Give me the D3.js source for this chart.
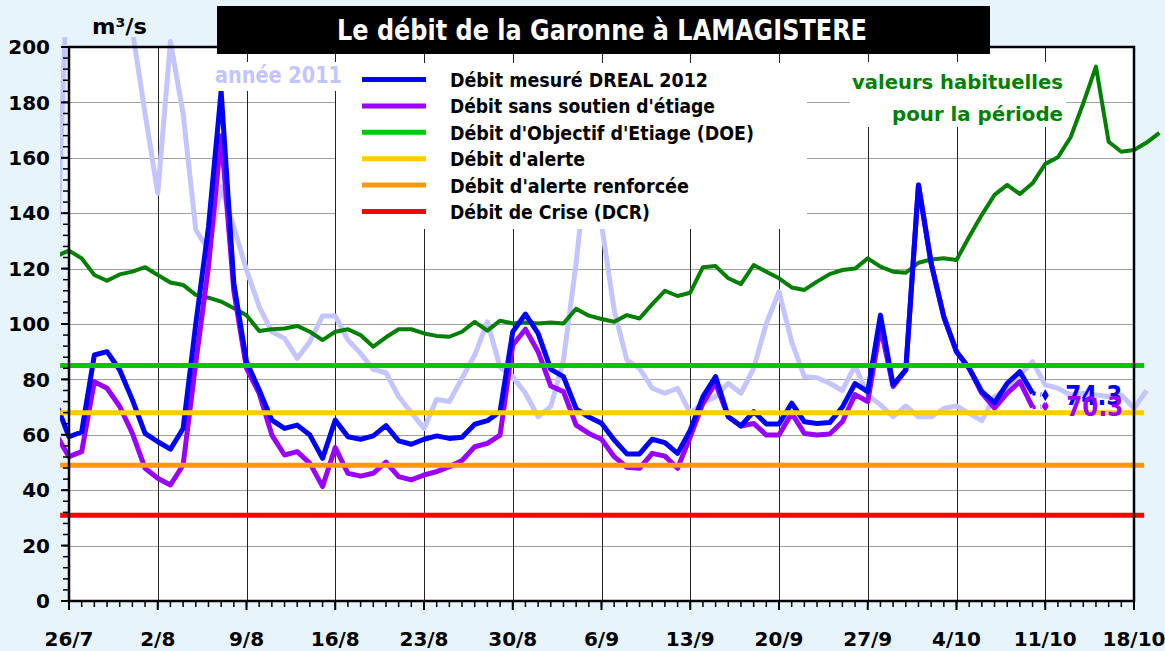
<!DOCTYPE html>
<html><head><meta charset="utf-8">
<script src="https://cdn.jsdelivr.net/npm/d3@7"></script>
<style>
html,body{margin:0;padding:0;background:#e8f4fc;}
svg{display:block;font-family:"DejaVu Sans",sans-serif;font-weight:bold;}
</style></head><body>
<svg id="c" width="1165" height="651"></svg>
<script>
// day index 0 = 26/7 ; every series starts on 25/7 (index -1)
const firstDay = -1;
const tickLabels = ["26/7","2/8","9/8","16/8","23/8","30/8","6/9","13/9","20/9","27/9","4/10","11/10","18/10"];
const yTicks = [0,20,40,60,80,100,120,140,160,180,200];

const measured2012 = [71,59.3,61,88.8,90,83.4,72.6,60.5,57.5,54.8,62.3,100,135,184,114.7,86.4,76.2,65.3,62.3,63.5,59.9,51.5,
 65.3,59.3,58.4,59.6,63.3,57.8,56.6,58.4,59.6,58.7,59.1,63.8,65.1,68.4,97.2,103.6,96.6,83.6,81,69.4,66.4,64.2,58.1,53.1,
 53.1,58.4,57.2,53.3,61.7,73.8,81,66.5,63.2,68.4,63.9,63.9,71.4,64.7,64.1,64.4,70,78.5,75.6,103.2,78,83.4,150.2,121.9,
 102.6,90,84,75.6,71.6,78.6,82.8,75,74.3];

const withoutSupport = [60,52.1,53.9,79.2,76.8,70.2,60.5,47.9,44.3,41.9,49.1,86,120.7,168,112,84,75,59.9,52.7,53.9,49.7,41.3,
 55.4,46.1,45.1,46.1,50.1,44.9,43.7,45.5,46.7,48.5,50.7,55.7,56.9,59.9,92.4,98.1,90,77.6,75.6,63.5,60.5,58.4,52.1,48.3,
 47.9,53.3,52.3,47.9,59.3,71.4,78.6,66.5,63.2,64.1,59.9,59.9,67.8,60.5,59.9,60.3,64.7,74.5,72,99,77.4,83.4,150.2,121.9,
 102.6,90,84,75,69.6,75,79.2,69.9,70.3];

const usualValues = [124.5,126.5,123.7,117.7,115.6,117.9,118.9,120.5,117.7,115,114.1,110.5,109.5,108.1,105.7,103.2,97.5,98.1,
 98.4,99.3,97.2,94.2,97.2,98.1,96,91.8,95.2,98.1,98.1,96.6,95.7,95.4,97.2,100.8,97.6,101.2,100.2,100.5,100.2,100.5,100.2,
 105.5,103,101.8,100.8,103.2,102,107.2,112,110.1,111.3,120.5,120.9,116.5,114.4,121.3,118.9,116.5,113.2,112.3,115.3,118,
 119.5,120,123.7,120.7,118.9,118.5,122.1,123.3,123.7,123.1,131.5,139.4,146.6,150.2,146.9,150.8,157.8,160.2,167.4,179.7,
 192.9,165.8,162.2,162.8,165.5,169];

const year2011 = [118,245,250,240,245,230,206,176,147.2,202,176,134,126.7,149.6,135,119.5,106.3,97.2,94.8,87.6,93.6,102.9,
 102.9,94.2,89.4,83.6,82.4,73.8,68,62.3,72.8,72,80.4,88.8,100.8,84.4,81,75,66.5,70.2,87,122,165,136,105,87,84,76.8,75,
 76.8,67.8,71.4,73.8,78.6,75,84,100.2,111.7,93.6,81,80.6,78.6,76,85,74.4,70.8,66.5,70.4,66.5,66.5,69.5,70.4,67.7,65.1,
 73.8,76.2,81.6,86.4,78,76.8,74.4,75,74.4,73.8,74.4,69.6,76];

const thresholdValues = [85,68,49,31];
const thresholdColors = ["#00c800","#ffcc00","#ff9900","#ff0000"];

const legendLabels = ["Débit mesuré DREAL 2012","Débit sans soutien d'étiage","Débit d'Objectif d'Etiage (DOE)",
 "Débit d'alerte","Débit d'alerte renforcée","Débit de Crise (DCR)"];
const legendColors = ["#0000ff","#9900ff","#00c800","#ffcc00","#ff9900","#ff0000"];
const legendWidths = [258,265,304,135,239,200];

const svg = d3.select("#c");
const L=69,R=1134,T=47,B=601;
const x = d3.scaleLinear().domain([0,84]).range([L,R]);
const y = d3.scaleLinear().domain([0,200]).range([B,T]);

svg.append("rect").attr("width",1165).attr("height",651).attr("fill","#e8f4fc");
svg.append("rect").attr("x",L).attr("y",T).attr("width",R-L).attr("height",B-T).attr("fill","#fff");

// grid
svg.append("g").selectAll("line").data(yTicks.filter(v=>v>0&&v<200)).join("line")
 .attr("x1",L).attr("x2",R).attr("y1",d=>Math.round(y(d))+0.5).attr("y2",d=>Math.round(y(d))+0.5)
 .attr("stroke","#a0a0a0").attr("stroke-width",1);
svg.append("g").selectAll("line").data(d3.range(7,84,7)).join("line")
 .attr("y1",T).attr("y2",B).attr("x1",d=>Math.round(x(d))+0.5).attr("x2",d=>Math.round(x(d))+0.5)
 .attr("stroke","#222").attr("stroke-width",1);

// clip
svg.append("clipPath").attr("id","clip").append("rect").attr("x",60).attr("y",37).attr("width",1105).attr("height",570);
const g = svg.append("g").attr("clip-path","url(#clip)");
const line = d3.line().x((v,i)=>x(i+firstDay)).y(v=>y(v));

g.append("path").attr("d",line(year2011)).attr("fill","none").attr("stroke","#c4c4ff").attr("stroke-width",5).attr("stroke-linejoin","round");
g.append("path").attr("d",line(usualValues)).attr("fill","none").attr("stroke","#007f00").attr("stroke-width",4).attr("stroke-linejoin","round");

// thresholds
svg.append("g").selectAll("line").data(thresholdValues).join("line")
 .attr("x1",x(-0.7)).attr("x2",x(84.8)).attr("y1",d=>y(d)).attr("y2",d=>y(d))
 .attr("stroke",(d,i)=>thresholdColors[i]).attr("stroke-width",5);

function drawSeries(arr,color){
  const n = arr.length;
  g.append("path").attr("d",line(arr.slice(0,n-1))).attr("fill","none").attr("stroke",color)
   .attr("stroke-width",5).attr("stroke-linejoin","round");
  const d0 = n-2+firstDay, d1 = n-1+firstDay;
  g.append("line").attr("x1",x(d0)).attr("y1",y(arr[n-2])).attr("x2",x(d1)).attr("y2",y(arr[n-1]))
   .attr("stroke",color).attr("stroke-width",4).attr("stroke-dasharray","3,5");
  g.append("path").attr("d",d3.symbol(d3.symbolDiamond,60)())
   .attr("transform",`translate(${x(d1)},${y(arr[n-1])})`).attr("fill",color).attr("stroke","#fff").attr("stroke-width",1.2);
}
drawSeries(withoutSupport,"#9900ff");
drawSeries(measured2012,"#0000ff");

// end labels
const lastM = measured2012[measured2012.length-1], lastW = withoutSupport[withoutSupport.length-1];
const lastDay = measured2012.length-1+firstDay;
svg.append("text").attr("x",x(lastDay)+20).attr("y",y(lastM)+10).attr("font-size",26).attr("fill","#0000ff")
 .attr("textLength",57).attr("lengthAdjust","spacingAndGlyphs").text(lastM.toFixed(1));
svg.append("text").attr("x",x(lastDay)+21).attr("y",y(lastW)+10).attr("font-size",26).attr("fill","#9900ff")
 .attr("textLength",57).attr("lengthAdjust","spacingAndGlyphs").text(lastW.toFixed(1));

// frame
svg.append("rect").attr("x",L).attr("y",T).attr("width",R-L).attr("height",B-T).attr("fill","none").attr("stroke","#000").attr("stroke-width",2.5);

// axes ticks
const ax = svg.append("g").attr("stroke","#000").attr("stroke-width",1.5);
ax.selectAll(".ym").data(d3.range(0,201,4)).join("line").attr("x1",L-6).attr("x2",L).attr("y1",d=>y(d)).attr("y2",d=>y(d));
ax.selectAll(".yM").data(yTicks).join("line").attr("x1",L-8).attr("x2",L).attr("y1",d=>y(d)).attr("y2",d=>y(d)).attr("stroke-width",2);
ax.selectAll(".xm").data(d3.range(0,85,1)).join("line").attr("y1",B).attr("y2",B+6).attr("x1",d=>x(d)).attr("x2",d=>x(d));
ax.selectAll(".xM").data(d3.range(0,85,7)).join("line").attr("y1",B).attr("y2",B+9).attr("x1",d=>x(d)).attr("x2",d=>x(d)).attr("stroke-width",2);

svg.append("g").selectAll("text").data(yTicks).join("text")
 .attr("x",50).attr("y",d=>y(d)).attr("dy","0.36em").attr("text-anchor","end").attr("font-size",20).attr("fill","#000").text(d=>d);
svg.append("g").selectAll("text").data(tickLabels).join("text")
 .attr("x",(d,i)=>x(i*7)).attr("y",646).attr("text-anchor","middle").attr("font-size",20).attr("fill","#000").text(d=>d);

// white boxes
svg.append("rect").attr("x",212).attr("y",62).attr("width",134).attr("height",29).attr("fill","#fff");
svg.append("rect").attr("x",850).attr("y",62).attr("width",216).attr("height",65).attr("fill","#fff");
svg.append("rect").attr("x",336).attr("y",63).attr("width",471).attr("height",166).attr("fill","#fff");

// legend
const lg = svg.append("g");
legendLabels.forEach((lab,i)=>{
  const yy = 79.5 + i*26.4;
  lg.append("line").attr("x1",362).attr("x2",426).attr("y1",yy).attr("y2",yy).attr("stroke",legendColors[i]).attr("stroke-width",5);
  lg.append("text").attr("x",450).attr("y",yy+7.5).attr("font-size",20).attr("fill","#000")
    .attr("textLength",legendWidths[i]).attr("lengthAdjust","spacingAndGlyphs").text(lab);
});

// annotations
svg.append("text").attr("x",215).attr("y",83).attr("font-size",23).attr("fill","#c4c4ff")
 .attr("textLength",127).attr("lengthAdjust","spacingAndGlyphs").text("année 2011");
svg.append("text").attr("x",852).attr("y",89).attr("font-size",20).attr("fill","#007f00")
 .attr("textLength",211).attr("lengthAdjust","spacingAndGlyphs").text("valeurs habituelles");
svg.append("text").attr("x",892).attr("y",121).attr("font-size",20).attr("fill","#007f00")
 .attr("textLength",171).attr("lengthAdjust","spacingAndGlyphs").text("pour la période");

// title
svg.append("rect").attr("x",217).attr("y",6).attr("width",773).attr("height",48).attr("fill","#000");
svg.append("text").attr("x",337).attr("y",40).attr("font-size",29).attr("fill","#fff")
 .attr("textLength",530).attr("lengthAdjust","spacingAndGlyphs").text("Le débit de la Garonne à LAMAGISTERE");
svg.append("text").attr("x",92).attr("y",34).attr("font-size",21).attr("fill","#000")
 .attr("textLength",55).attr("lengthAdjust","spacingAndGlyphs").text("m³/s");
</script>
</body></html>
